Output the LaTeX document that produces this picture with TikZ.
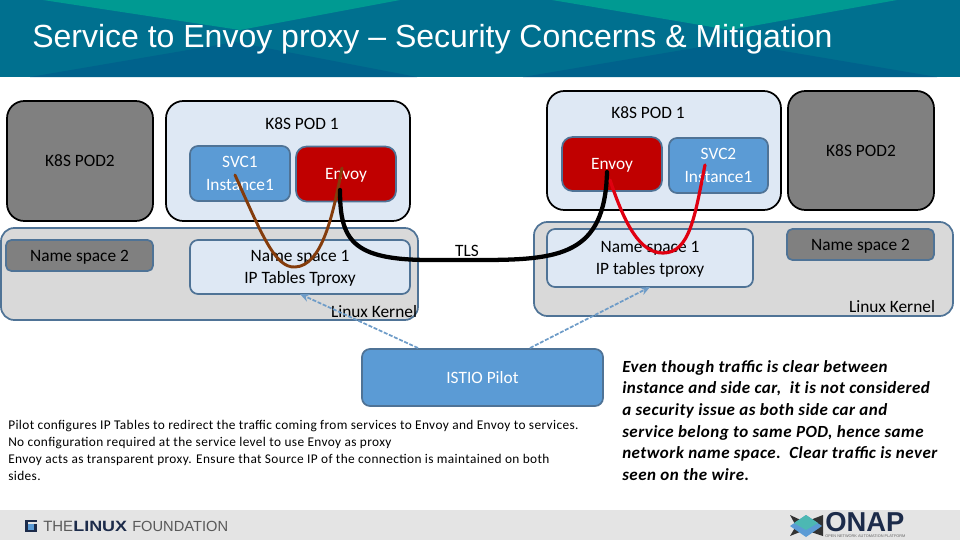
\documentclass[tikz,border=0pt]{standalone}
\usepackage{fontspec}
\setmainfont{Carlito}
\newfontfamily\titlefont{Liberation Sans}
\usetikzlibrary{arrows.meta}
\definecolor{podfill}{HTML}{DEE8F4}
\definecolor{blueF}{HTML}{5B9BD5}
\definecolor{blueL}{HTML}{4F7396}
\definecolor{redF}{HTML}{C00000}
\definecolor{greyF}{HTML}{808080}
\definecolor{kernelF}{HTML}{D9D9D9}
\definecolor{bandA}{HTML}{00708F}
\definecolor{bandB}{HTML}{009A92}
\definecolor{bandC}{HTML}{00628C}
\definecolor{foot}{HTML}{E4E4E4}
\definecolor{brownL}{HTML}{843C0C}
\definecolor{redL}{HTML}{E00010}
\definecolor{dashL}{HTML}{6E9CC8}
\definecolor{navy}{HTML}{1C2B4A}
\tikzset{
 x=0.75pt,y=-0.75pt,
 box/.style={rounded corners=#1,draw,line width=1.3pt,inner sep=0pt,align=center,font=\fontsize{13}{17}\selectfont,text depth=0pt},
 pod/.style={box=13pt,draw=black,fill=podfill},
 podgrey/.style={box=13pt,draw=black,fill=greyF},
 kernel/.style={box=10pt,draw=blueL,fill=kernelF},
 space/.style={box=6pt,draw=blueL,fill=podfill},
 spacegrey/.style={box=4pt,draw=blueL,fill=greyF},
 svc/.style={box=6pt,draw=blueL,fill=blueF,text=white},
 envoy/.style={box=8pt,draw=blueL,fill=redF,text=white},
 lbl/.style={inner sep=0pt,font=\fontsize{13}{17}\selectfont,text depth=0pt},
 pipe/.style={line width=#1,line cap=round},
 ctrl/.style={draw=dashL,line width=1.3pt,dash pattern=on 3pt off 1.2pt,-{Stealth[length=7pt,width=6pt]}},
}
\begin{document}
\begin{tikzpicture}
\useasboundingbox (0,0) rectangle (960,540);
% title band
\fill[bandA] (0,0) rectangle (960,77);
\fill[bandB] (43,0) -- (240,30) -- (400,0) -- cycle;
\fill[bandB] (552,0) -- (730,30) -- (897,0) -- cycle;
\fill[bandC] (30,77) -- (235,42) -- (417,77) -- cycle;
\fill[bandC] (523,77) -- (730,42) -- (937,77) -- cycle;
\fill[foot] (0,510) rectangle (960,540);
\node[anchor=base west,inner sep=0pt,text=white,font=\titlefont\fontsize{24}{28}\selectfont] (title) at (32,47.5) {Service to Envoy proxy – Security Concerns \& Mitigation};
% kernels
\node[kernel,minimum width=417*0.75pt,minimum height=92*0.75pt] (kerL) at (209.5,274) {};
\node[kernel,minimum width=419*0.75pt,minimum height=94*0.75pt] (kerR) at (743.5,269) {};
% left group
\node[podgrey,minimum width=146*0.75pt,minimum height=120*0.75pt] (pod2L) at (80,161) {K8S POD2};
\node[pod,minimum width=244*0.75pt,minimum height=120*0.75pt] (pod1L) at (288,161) {};
\node[lbl] (pod1Ltxt) at (302,123.5) {K8S POD 1};
\node[svc,minimum width=100*0.75pt,minimum height=55*0.75pt] (svc1) at (240,173.5) {SVC1\\Instance1};
\node[envoy,minimum width=100*0.75pt,minimum height=55*0.75pt] (envL) at (346,174) {Envoy};
\node[spacegrey,minimum width=147*0.75pt,minimum height=31*0.75pt] (ns2L) at (79.5,255.5) {Name space 2};
\node[space,minimum width=220*0.75pt,minimum height=54*0.75pt] (ns1L) at (300,267) {Name space 1\\IP Tables Tproxy};
\node[lbl] (kerLtxt) at (374,311.5) {Linux Kernel};
% right group
\node[pod,minimum width=234*0.75pt,minimum height=119*0.75pt] (pod1R) at (664,150.5) {};
\node[lbl] (pod1Rtxt) at (648,112.5) {K8S POD 1};
\node[envoy,minimum width=100*0.75pt,minimum height=54*0.75pt] (envR) at (612,164) {Envoy};
\node[svc,minimum width=99*0.75pt,minimum height=55*0.75pt] (svc2) at (718.5,165.5) {SVC2\\Instance1};
\node[podgrey,minimum width=146*0.75pt,minimum height=119*0.75pt] (pod2R) at (861,150.5) {K8S POD2};
\node[space,minimum width=206*0.75pt,minimum height=58*0.75pt] (ns1R) at (650,258) {Name space 1\\IP tables tproxy};
\node[spacegrey,minimum width=147*0.75pt,minimum height=31*0.75pt] (ns2R) at (860.5,244.5) {Name space 2};
\node[lbl] (kerRtxt) at (892,306.5) {Linux Kernel};
\node[lbl] (tls) at (467,250.5) {TLS};
% pilot
\node[svc,minimum width=241*0.75pt,minimum height=57*0.75pt] (pilot) at (482.5,377.5) {ISTIO Pilot};
% named anchors of connectors
\coordinate (a1) at (235,175);
\coordinate (a2) at (342,168);
\coordinate (b1) at (340,190);
\coordinate (b2) at (607,172);
\coordinate (c1) at (610,180);
\coordinate (c2) at (705,165);
\coordinate (d1) at (418,348);
\coordinate (d2) at (530,348);
\coordinate (e1) at (300,294);
\coordinate (e2) at (650,287);
% connectors
\draw[pipe=2.2pt,brownL] (a1) .. controls (262,235) and (275,268) .. (295,267) .. controls (322,266) and (333,215) .. (a2);
\draw[pipe=3.2pt,black] (b1) .. controls (340,240) and (352,260) .. (430,260) -- (480,260) .. controls (560,260) and (605,255) .. (b2);
\draw[pipe=2.4pt,redL] (c1) .. controls (625,225) and (640,253) .. (663,253) .. controls (690,253) and (695,215) .. (c2);
\draw[ctrl] (d1) -- (e1);
\draw[ctrl] (d2) -- (e2);
% text
\node[anchor=north west,inner sep=0pt,align=left,font=\fontsize{10}{12.75}\selectfont\addfontfeatures{LetterSpace=2.8}] (note) at (8,420) {Pilot configures IP Tables to redirect the traffic coming from services to Envoy and Envoy to services.\\No configuration required at the service level to use Envoy as proxy\\Envoy acts as transparent proxy. Ensure that Source IP of the connection is maintained on both\\sides.};
\node[anchor=north west,inner sep=0pt,align=left,font=\fontsize{12.75}{16.2}\selectfont\bfseries\itshape\addfontfeatures{LetterSpace=2.8}] (side) at (622,360) {Even though traffic is clear between\\instance and side car,\ \ it is not considered\\a security issue as both side car and\\service belong to same POD, hence same\\network name space.\ \ Clear traffic is never\\seen on the wire.};
% Linux Foundation logo
\fill[navy] (25,520) rectangle (37,532);
\fill[blueF] (28,524) rectangle (34,530);
\fill[foot] (28,521.5) rectangle (37,523.5);
\node[anchor=base west,inner sep=0pt,text=black!65,font=\titlefont\fontsize{11.2}{14}\selectfont] (lf1) at (43,531) {THE};
\node[anchor=base west,inner sep=0pt,text=navy,font=\titlefont\bfseries\fontsize{11.2}{14}\selectfont,xscale=1.2] (lf2) at (73,531) {LINUX};
\node[anchor=base west,inner sep=0pt,text=black!65,font=\titlefont\fontsize{11}{14}\selectfont] (lf3) at (132,531) {FOUNDATION};
% ONAP logo
\fill[black!80] (790,515) -- (805,522) -- (823,515) -- (823,536) -- (805,530) -- (790,536) -- (796,526) -- cycle;
\fill[blueF] (806,515) -- (822,526) -- (806,537) -- (790,526) -- cycle;
\fill[bandB!70!white] (806,515) -- (818,523) -- (806,530) -- (794,523) -- cycle;
\node[anchor=base west,inner sep=0pt,text=navy,font=\titlefont\bfseries\fontsize{20.5}{24}\selectfont] (onap) at (825,531) {ONAP};
\node[anchor=base west,inner sep=0pt,text=black!60,font=\titlefont\fontsize{2.9}{4}\selectfont] (onapsub) at (825,537.5) {OPEN NETWORK AUTOMATION PLATFORM};
\end{tikzpicture}
\end{document}
